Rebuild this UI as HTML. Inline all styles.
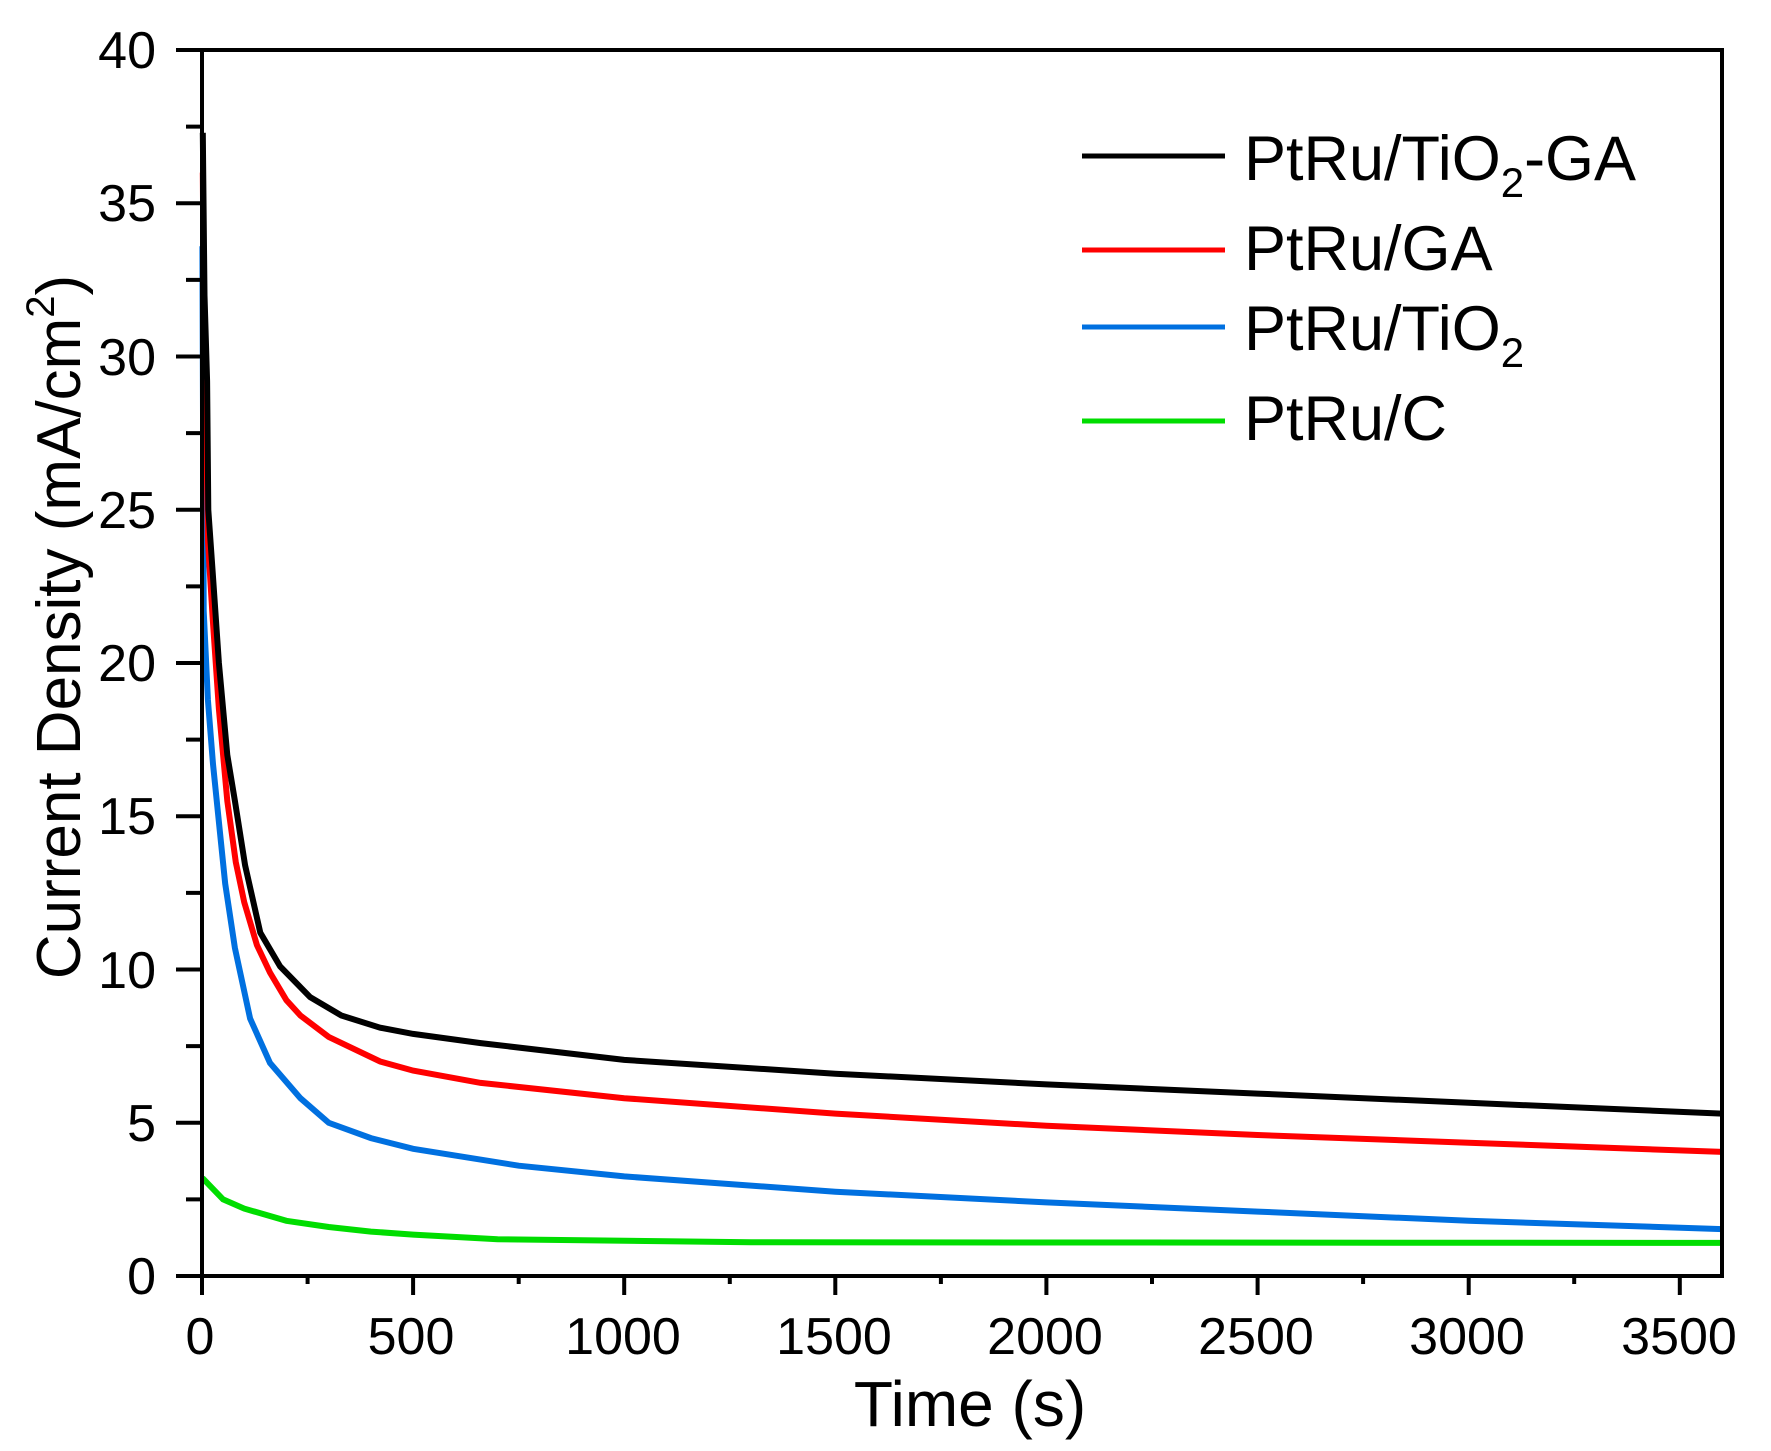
<!DOCTYPE html>
<html><head><meta charset="utf-8"><style>
html,body{margin:0;padding:0;background:#fff;}
svg{display:block;}
text{font-family:"Liberation Sans",Arial,sans-serif;fill:#000;}
</style></head><body>
<svg id="s" width="1771" height="1451" viewBox="0 0 1771 1451" xmlns="http://www.w3.org/2000/svg">
<rect width="1771" height="1451" fill="#fff"/>
<g id="curves" fill="none" stroke-width="6" stroke-linejoin="miter"></g>
<g id="axes" stroke="#000" stroke-width="4" fill="none"></g>
<g font-size="52" text-anchor="end">
<text x="156" y="1294">0</text>
<text x="156" y="1141">5</text>
<text x="156" y="988">10</text>
<text x="156" y="834">15</text>
<text x="156" y="681">20</text>
<text x="156" y="528">25</text>
<text x="156" y="375">30</text>
<text x="156" y="221">35</text>
<text x="156" y="68">40</text>
</g>
<g font-size="52" text-anchor="middle">
<text x="200" y="1354">0</text>
<text x="411" y="1354">500</text>
<text x="623" y="1354">1000</text>
<text x="834" y="1354">1500</text>
<text x="1045" y="1354">2000</text>
<text x="1256" y="1354">2500</text>
<text x="1467" y="1354">3000</text>
<text x="1679" y="1354">3500</text>
</g>
<text x="970" y="1426" font-size="64" text-anchor="middle">Time (s)</text>
<text transform="translate(80,627) rotate(-90)" font-size="62" text-anchor="middle">Current Density (mA/cm<tspan font-size="40" dy="-26">2</tspan><tspan dy="26">)</tspan></text>
<g stroke-width="5">
<line x1="1082" y1="156" x2="1225" y2="156" stroke="#000"/>
<line x1="1082" y1="250" x2="1225" y2="250" stroke="#ff0000"/>
<line x1="1082" y1="327" x2="1225" y2="327" stroke="#0070e0"/>
<line x1="1082" y1="421" x2="1225" y2="421" stroke="#00dd00"/>
</g>
<g font-size="63">
<text x="1244" y="180">PtRu/TiO<tspan font-size="42" dy="17">2</tspan><tspan dy="-17">-GA</tspan></text>
<text x="1244" y="270">PtRu/GA</text>
<text x="1244" y="350">PtRu/TiO<tspan font-size="42" dy="17">2</tspan></text>
<text x="1244" y="440">PtRu/C</text>
</g>
</svg>
<script>
(function(){
var X0=202,XS=1520/3600,Y0=1276,YS=30.65;
function px(t){return X0+t*XS;} function py(v){return Y0-v*YS;}
var data={
"#000000":[[2,37.3],[6,32],[12,29.2],[15,25],[25,23],[40,20],[60,17],[78,15.5],[102,13.4],[138,11.2],[185,10.1],[256,9.1],[330,8.5],[422,8.1],[500,7.9],[660,7.6],[1000,7.05],[1500,6.6],[2000,6.25],[2500,5.95],[3000,5.65],[3600,5.3]],
"#ff0000":[[2,36],[4,32],[10,28],[14,24],[25,21.5],[40,18.5],[60,15.5],[80,13.5],[100,12.2],[130,10.8],[161,9.9],[200,9],[233,8.5],[300,7.8],[422,7.0],[500,6.7],[660,6.3],[1000,5.8],[1500,5.3],[2000,4.9],[2500,4.6],[3000,4.35],[3600,4.05]],
"#0070e0":[[1,33.6],[4,21.7],[14,18.8],[26,16.7],[38,15.1],[55,12.8],[78,10.7],[114,8.4],[161,6.95],[233,5.8],[300,5.0],[400,4.5],[500,4.15],[750,3.6],[1000,3.25],[1500,2.75],[2000,2.4],[2500,2.1],[3000,1.8],[3600,1.53]],
"#00dd00":[[1,3.2],[50,2.5],[100,2.2],[200,1.8],[300,1.6],[400,1.45],[500,1.35],[700,1.2],[1300,1.1],[3600,1.08]]
};
var ns="http://www.w3.org/2000/svg",g=document.getElementById("curves");
["#00dd00","#0070e0","#ff0000","#000000"].forEach(function(c){
var d=data[c].map(function(p,i){return (i?"L":"M")+px(p[0]).toFixed(1)+" "+py(p[1]).toFixed(1);}).join(" ");
var e=document.createElementNS(ns,"path");e.setAttribute("d",d);e.setAttribute("stroke",c);g.appendChild(e);});
var a=document.getElementById("axes"),s="M176 50 H1722 V1276 H176 M202 50 V1276";
for(var v=0;v<=40;v+=2.5){var y=py(v),L=(v%5==0)?26:16;s+=" M"+(202-L)+" "+y.toFixed(1)+" H202";}
for(var t=0;t<=3600;t+=250){var x=px(t),L=(t%500==0)?19:8;s+=" M"+x.toFixed(1)+" 1276 V"+(1276+L);}
var e=document.createElementNS(ns,"path");e.setAttribute("d",s);a.appendChild(e);
})();
</script>
</body></html>
